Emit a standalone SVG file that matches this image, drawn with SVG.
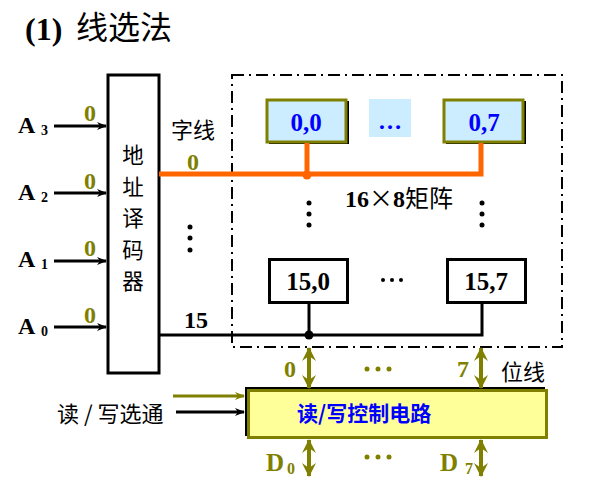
<svg xmlns="http://www.w3.org/2000/svg" width="589" height="484" viewBox="0 0 589 484">
<style>
.lat{font-family:"Liberation Serif","Noto Sans CJK SC",serif;font-weight:bold}
.cjk{font-family:"Noto Sans CJK SC","Liberation Serif",serif}
.ol{fill:#808000}
.blk{stroke:#000;stroke-width:3;fill:none}
</style>
<defs>
<marker id="ah" markerWidth="10" markerHeight="8" refX="9" refY="4" orient="auto" markerUnits="userSpaceOnUse"><path d="M0,0 L10,4 L0,8 L3,4 Z" fill="#000"/></marker>
<marker id="aho" markerWidth="10" markerHeight="8" refX="9" refY="4" orient="auto" markerUnits="userSpaceOnUse"><path d="M0,0 L10,4 L0,8 L3,4 Z" fill="#808000"/></marker>
<marker id="dbl" markerWidth="14" markerHeight="14" refX="13" refY="7" orient="auto-start-reverse" markerUnits="userSpaceOnUse"><path d="M0,0 L14,7 L0,14 L5,7 Z" fill="#808000"/></marker>
</defs>

<text class="lat" x="25" y="40" font-size="32">(1)</text>
<text class="cjk" x="76" y="39" font-size="32">线选法</text>

<g id="decoder">
<rect x="108" y="75" width="51" height="298" fill="#fff" stroke="#000" stroke-width="3"/>
<g class="cjk" font-size="21.5" text-anchor="middle">
<text x="133" y="163">地</text>
<text x="133" y="194.5">址</text>
<text x="133" y="226">译</text>
<text x="133" y="257.5">码</text>
<text x="133" y="289">器</text>
</g>
</g>

<g id="inputs">
<text class="lat" x="18" y="133" font-size="24">A</text><text class="lat" x="41" y="135" font-size="14">3</text>
<text class="lat" x="18" y="200" font-size="24">A</text><text class="lat" x="41" y="202" font-size="14">2</text>
<text class="lat" x="18" y="267" font-size="24">A</text><text class="lat" x="41" y="269" font-size="14">1</text>
<text class="lat" x="18" y="334" font-size="24">A</text><text class="lat" x="41" y="336" font-size="14">0</text>
<g class="lat ol" font-size="24" text-anchor="middle">
<text x="90" y="121">0</text>
<text x="90" y="189">0</text>
<text x="90" y="256">0</text>
<text x="90" y="323">0</text>
</g>
</g>

<g id="matrix">
<rect x="232" y="75" width="330" height="272" fill="none" stroke="#000" stroke-width="2" stroke-dasharray="12 5 2 5"/>
<text class="lat" x="399" y="207" font-size="24" text-anchor="middle">16<tspan class="cjk" font-weight="normal">×</tspan>8<tspan class="cjk" font-weight="normal">矩阵</tspan></text>
</g>

<g id="cell00">
<rect x="269" y="101" width="80" height="43" fill="#000"/>
<rect x="267" y="100" width="79" height="42" fill="#CCECFF" stroke="#808000" stroke-width="3"/>
<text class="lat" x="306" y="131" font-size="25" fill="#0000FF" text-anchor="middle">0,0</text>
</g>
<g id="celldots">
<rect x="369" y="99" width="42" height="38" fill="#CCECFF"/>
<text class="lat" x="390" y="129" font-size="24" fill="#0000FF" text-anchor="middle">…</text>
</g>
<g id="cell07">
<rect x="446" y="101" width="80" height="43" fill="#000"/>
<rect x="444" y="100" width="79" height="42" fill="#CCECFF" stroke="#808000" stroke-width="3"/>
<text class="lat" x="484" y="131" font-size="25" fill="#0000FF" text-anchor="middle">0,7</text>
</g>
<g id="cell150">
<rect x="269.5" y="259.5" width="78" height="43" fill="#fff" stroke="#000" stroke-width="3"/>
<text class="lat" x="308" y="290" font-size="25" text-anchor="middle">15,0</text>
</g>
<g id="cell157">
<rect x="447.5" y="259.5" width="78" height="43" fill="#fff" stroke="#000" stroke-width="3"/>
<text class="lat" x="486" y="290" font-size="25" text-anchor="middle">15,7</text>
</g>

<g id="rwctrl">
<rect x="245" y="387" width="300" height="49" fill="#000"/>
<rect x="248.5" y="390.5" width="298" height="47" fill="#FFFF99" stroke="#808000" stroke-width="3"/>
<text class="cjk" x="297" y="421" font-size="21" fill="#0000FF" font-weight="bold">读/写控制电路</text>
</g>

<g id="connectors">
<polyline points="159,174 481,174 481,143" fill="none" stroke="#FF6600" stroke-width="5"/>
<line x1="307" y1="143" x2="307" y2="174" stroke="#FF6600" stroke-width="5"/>
<circle cx="307" cy="175" r="4.5" fill="#FF6600"/>
<polyline points="159,335 482,335 482,303" class="blk"/>
<line x1="309" y1="303" x2="309" y2="335" class="blk"/>
<circle cx="309" cy="335" r="4.5" fill="#000"/>
<line x1="54" y1="126" x2="106" y2="126" stroke="#000" stroke-width="3" marker-end="url(#ah)"/>
<line x1="54" y1="193" x2="106" y2="193" stroke="#000" stroke-width="3" marker-end="url(#ah)"/>
<line x1="54" y1="261" x2="106" y2="261" stroke="#000" stroke-width="3" marker-end="url(#ah)"/>
<line x1="54" y1="327" x2="106" y2="327" stroke="#000" stroke-width="3" marker-end="url(#ah)"/>
<line x1="173" y1="396" x2="244" y2="396" stroke="#808000" stroke-width="3" marker-end="url(#aho)"/>
<line x1="176" y1="412" x2="244" y2="412" stroke="#000" stroke-width="3" marker-end="url(#ah)"/>
<line x1="309" y1="348" x2="309" y2="388" stroke="#808000" stroke-width="4" marker-start="url(#dbl)" marker-end="url(#dbl)"/>
<line x1="481" y1="348" x2="481" y2="388" stroke="#808000" stroke-width="4" marker-start="url(#dbl)" marker-end="url(#dbl)"/>
<line x1="309" y1="440" x2="309" y2="476" stroke="#808000" stroke-width="4" marker-start="url(#dbl)" marker-end="url(#dbl)"/>
<line x1="481" y1="440" x2="481" y2="476" stroke="#808000" stroke-width="4" marker-start="url(#dbl)" marker-end="url(#dbl)"/>
</g>

<g id="labels">
<text class="cjk" x="171" y="138" font-size="22">字线</text>
<text class="lat ol" x="193" y="170" font-size="24" text-anchor="middle">0</text>
<text class="lat" x="196" y="328" font-size="24" text-anchor="middle">15</text>
<g fill="#000">
<circle cx="190" cy="227" r="2.5"/><circle cx="190" cy="238" r="2.5"/><circle cx="190" cy="250" r="2.5"/>
<circle cx="309" cy="203" r="2.5"/><circle cx="309" cy="214" r="2.5"/><circle cx="309" cy="225" r="2.5"/>
<circle cx="482" cy="203" r="2.5"/><circle cx="482" cy="214" r="2.5"/><circle cx="482" cy="225" r="2.5"/>
<circle cx="383" cy="280" r="2"/><circle cx="392" cy="280" r="2"/><circle cx="401" cy="280" r="2"/>
</g>
<g fill="#808000">
<circle cx="367" cy="369" r="2.5"/><circle cx="378" cy="369" r="2.5"/><circle cx="389" cy="369" r="2.5"/>
<circle cx="367" cy="457" r="2.5"/><circle cx="378" cy="457" r="2.5"/><circle cx="389" cy="457" r="2.5"/>
</g>
<text class="lat ol" x="290" y="377" font-size="24" text-anchor="middle">0</text>
<text class="lat ol" x="463" y="377" font-size="24" text-anchor="middle">7</text>
<text class="cjk" x="501" y="380" font-size="22">位线</text>
<text class="lat ol" x="266" y="471" font-size="25">D</text><text class="lat ol" x="287" y="474" font-size="16">0</text>
<text class="lat ol" x="440" y="471" font-size="25">D</text><text class="lat ol" x="465" y="474" font-size="16">7</text>
<text class="cjk" x="57" y="422" font-size="22">读 / 写选通</text>
</g>
</svg>
